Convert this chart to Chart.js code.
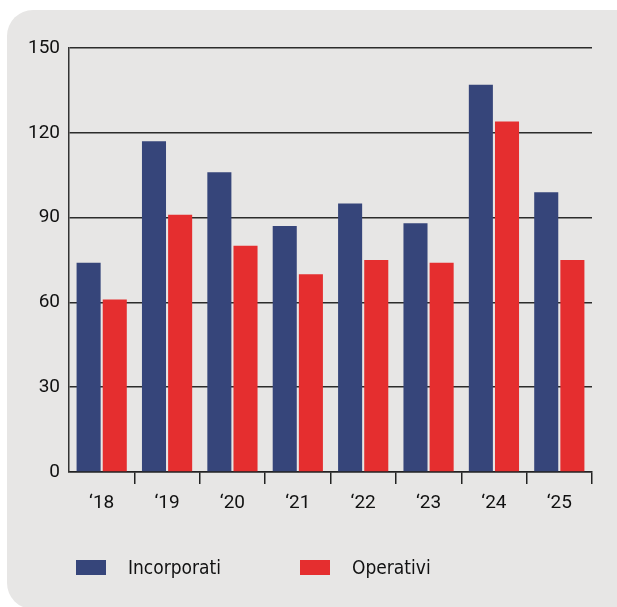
<!DOCTYPE html>
<html>
<head>
<meta charset="utf-8">
<script src="https://cdn.jsdelivr.net/npm/chart.js@4"></script>
<style>
  html, body { margin: 0; padding: 0; background: #fff; }
  body { width: 617px; height: 607px; position: relative; overflow: hidden; }
  #panel {
    position: absolute; left: 7px; top: 10px; width: 634px; height: 599px;
    background: #e7e6e5; border-radius: 26px;
  }
  #wrap { position: absolute; left: 0; top: 0; width: 617px; height: 607px; }
  .legend-item {
    position: absolute; top: 557px; height: 20px; display: flex; align-items: center;
    font-family: "Liberation Sans Narrow", "DejaVu Sans Condensed", "Roboto", sans-serif;
    font-size: 19px; color: #111;
  }
  .legend-item span.box { display: inline-block; width: 30px; height: 15px; margin-right: 22px; }
</style>
</head>
<body>
<div id="panel"></div>
<div id="wrap"><canvas id="myChart" width="617" height="607"></canvas></div>
<div class="legend-item" style="left:76px"><span class="box" style="background:#36457a"></span>Incorporati</div>
<div class="legend-item" style="left:300px"><span class="box" style="background:#e52e2f"></span>Operativi</div>

<script>
const years = ["\u201818", "\u201819", "\u201820", "\u201821", "\u201822", "\u201823", "\u201824", "\u201825"];
const incorporati = [74, 117, 106, 87, 95, 88, 137, 99];
const operativi = [61, 91, 80, 70, 75, 74, 124, 75];
const yTicks = [0, 30, 60, 90, 120, 150];

const blue = "#36457a";
const red = "#e52e2f";
const tickFont = { family: "Roboto", size: 19 };

const ctx = document.getElementById('myChart');

new Chart(ctx, {
  type: 'bar',
  data: {
    labels: years,
    datasets: [{
      label: 'Incorporati',
      data: incorporati,
      backgroundColor: blue,
      borderWidth: 0,
      categoryPercentage: 0.8,
      barPercentage: 0.92,
    }, {
      label: 'Operativi',
      data: operativi,
      backgroundColor: red,
      borderWidth: 0,
      categoryPercentage: 0.8,
      barPercentage: 0.92,
    }]
  },
  options: {
    responsive: false,
    animation: false,
    layout: { padding: { left: 0, right: 25, top: 48, bottom: 0 } },
    plugins: {
      legend: { display: false },
      tooltip: { enabled: false }
    },
    scales: {
      x: {
        offset: true,
        grid: {
          offset: true,
          drawOnChartArea: false,
          drawTicks: true,
          tickLength: 12,
          lineWidth: 1.5,
          color: (c) => c.index === 0 ? 'rgba(0,0,0,0)' : '#222',
        },
        border: { display: true, color: '#222', width: 1.5 },
        ticks: { color: '#111', font: tickFont, padding: 8, maxRotation: 0 },
        afterFit: (scale) => { scale.height = 135; }
      },
      y: {
        min: 0,
        max: 150,
        z: 1,
        afterBuildTicks: (scale) => { scale.ticks = yTicks.map(v => ({ value: v })); },
        grid: {
          drawTicks: false,
          lineWidth: 1.5,
          color: 'rgba(10,10,10,0.85)',
        },
        border: { display: true, color: '#333', width: 1.5 },
        ticks: { color: '#111', font: tickFont, padding: 9 },
        afterFit: (scale) => { scale.width = 69; }
      }
    }
  }
});
</script>
</body>
</html>
